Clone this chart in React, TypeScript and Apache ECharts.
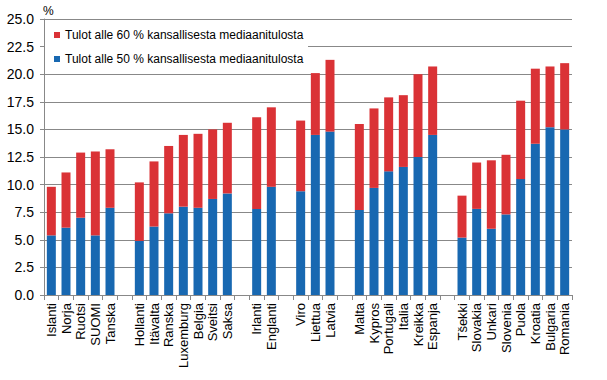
import React, { useEffect, useRef } from "react";
import * as echarts from "echarts";

const categories: string[] = [
  "Islanti", "Norja", "Ruotsi", "SUOMI", "Tanska", " ",
  "Hollanti", "Itävalta", "Ranska", "Luxemburg", "Belgia", "Sveitsi", "Saksa", "  ",
  "Irlanti", "Englanti", "   ",
  "Viro", "Liettua", "Latvia", "    ",
  "Malta", "Kypros", "Portugali", "Italia", "Kreikka", "Espanja", "     ",
  "Tšekki", "Slovakia", "Unkari", "Slovenia", "Puola", "Kroatia", "Bulgaria", "Romania",
];

const below50: (number | null)[] = [
  5.4, 6.1, 7.0, 5.4, 7.9, null,
  4.9, 6.2, 7.4, 8.0, 7.9, 8.7, 9.2, null,
  7.8, 9.8, null,
  9.4, 14.5, 14.8, null,
  7.7, 9.7, 11.2, 11.6, 12.5, 14.5, null,
  5.2, 7.8, 6.0, 7.3, 10.5, 13.7, 15.2, 15.0,
];

const below60: (number | null)[] = [
  9.8, 11.1, 12.9, 13.0, 13.2, null,
  10.2, 12.1, 13.5, 14.5, 14.6, 15.0, 15.6, null,
  16.1, 17.0, null,
  15.8, 20.1, 21.3, null,
  15.5, 16.9, 17.9, 18.1, 20.0, 20.7, null,
  9.0, 12.0, 12.2, 12.7, 17.6, 20.5, 20.7, 21.0,
];

const yTicks = { min: 0, max: 25, interval: 2.5 };

const name60 = "Tulot alle 60 % kansallisesta mediaanitulosta";
const name50 = "Tulot alle 50 % kansallisesta mediaanitulosta";

const RED = "#da3236";
const BLUE = "#1868b1";
const GRAY = "#888888";
const FONT = "'Liberation Sans', Arial, sans-serif";

export default function App() {
  const ref = useRef<HTMLDivElement>(null);
  useEffect(() => {
    if (!ref.current) return;
    const chart = echarts.init(ref.current, undefined, { renderer: "svg" });
    const diff = below60.map((v, i) => {
      const b = below50[i];
      return v == null || b == null ? null : Math.round((v - b) * 100) / 100;
    });
    chart.setOption({
      animation: false,
      backgroundColor: "#fff",
      textStyle: { fontFamily: FONT },
      grid: { left: 44, right: 35, top: 19, bottom: 85, containLabel: false },
      legend: {
        data: [name60, name50],
        orient: "vertical",
        left: 54,
        top: 29,
        itemWidth: 6,
        itemHeight: 6,
        itemGap: 12,
        icon: "rect",
        padding: 0,
        selectedMode: false,
        textStyle: { fontSize: 12, color: "#000", fontFamily: FONT },
      },
      graphic: [
        {
          type: "rect",
          z: 1,
          shape: { x: 45, y: 21, width: 263, height: 50 },
          style: { fill: "#fff" },
        },
        {
          type: "text",
          left: 43,
          top: 5,
          style: { text: "%", fontSize: 12, fill: "#000", fontFamily: FONT },
        },
      ],
      xAxis: {
        type: "category",
        data: categories,
        axisLine: { lineStyle: { color: GRAY, width: 1 } },
        axisTick: { show: true, length: 5, lineStyle: { color: GRAY } },
        axisLabel: {
          rotate: 90,
          interval: 0,
          margin: 8,
          fontSize: 13,
          color: "#000",
          fontFamily: FONT,
        },
      },
      yAxis: {
        type: "value",
        min: yTicks.min,
        max: yTicks.max,
        interval: yTicks.interval,
        axisLine: { show: true, lineStyle: { color: GRAY, width: 1 } },
        axisTick: { show: true, length: 4, lineStyle: { color: GRAY } },
        splitLine: { lineStyle: { color: GRAY, width: 1 } },
        axisLabel: {
          formatter: (v: number) => v.toFixed(1),
          fontSize: 14,
          color: "#000",
          margin: 10,
          fontFamily: FONT,
        },
      },
      series: [
        {
          name: name50,
          type: "bar",
          stack: "total",
          data: below50,
          barWidth: 9,
          itemStyle: { color: BLUE },
        },
        {
          name: name60,
          type: "bar",
          stack: "total",
          data: diff,
          barWidth: 9,
          itemStyle: { color: RED },
        },
      ],
    });
    return () => chart.dispose();
  }, []);
  return (
    <div
      ref={ref}
      style={{ position: "fixed", left: 0, top: 0, width: 607, height: 380 }}
    />
  );
}
